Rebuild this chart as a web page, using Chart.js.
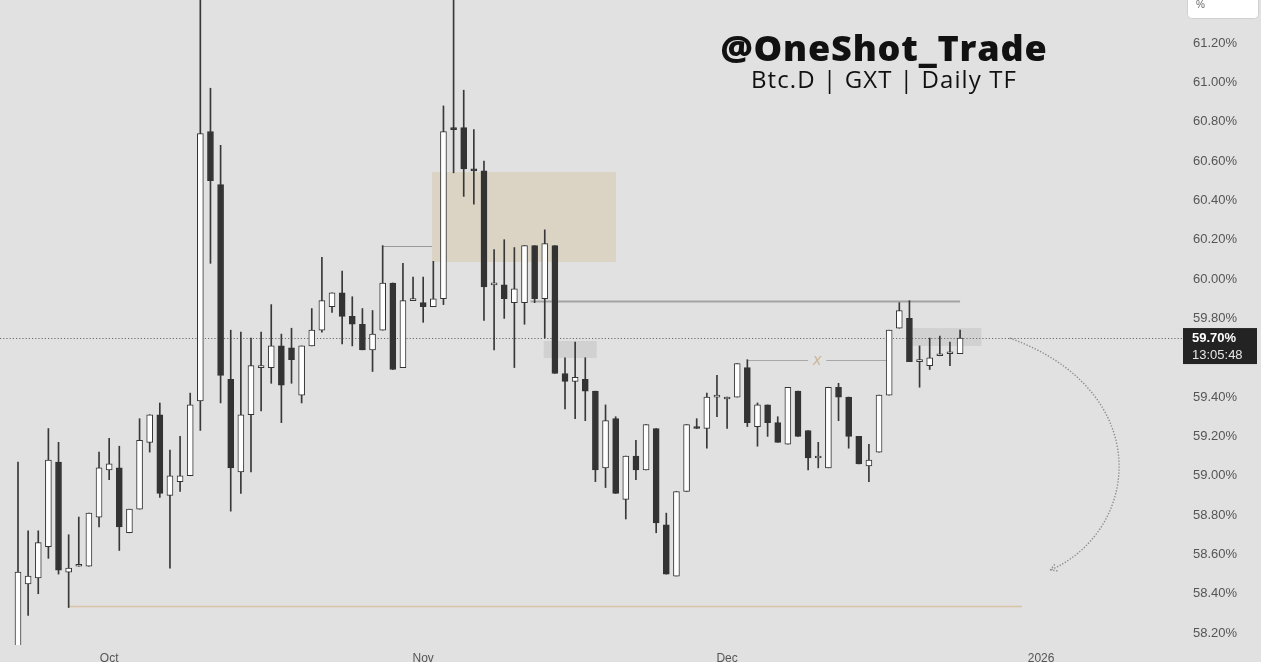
<!DOCTYPE html>
<html>
<head>
<meta charset="utf-8">
<title>Btc.D Daily</title>
<script src="https://cdn.jsdelivr.net/npm/chart.js@4.4.1/dist/chart.umd.min.js"></script>
<style>
  html, body { margin: 0; padding: 0; background: #e1e1e1; }
  #wrap { position: relative; width: 1261px; height: 662px; overflow: hidden; }
  #wrap canvas { position: absolute; left: 0; top: 0; }
  .head { position: absolute; left: 584px; width: 600px; text-align: center; color: #111; font-family: "Open Sans", sans-serif; white-space: nowrap; }
  #title { top: 30px; font-size: 36px; line-height: 36px; font-weight: 800; letter-spacing: 0.8px; }
  #subtitle { top: 67px; font-size: 24px; line-height: 24px; font-weight: 400; letter-spacing: 1.1px; }
</style>
</head>
<body>
<div id="wrap">
  <canvas id="out"></canvas>
  <div id="title" class="head">@OneShot_Trade</div>
  <div id="subtitle" class="head">Btc.D | GXT | Daily TF</div>
</div>
<script>
// daily candles, first one is 22 Sep 2025
const firstDay = Date.UTC(2025, 8, 22);
const opens = [
  58.10, 58.45, 58.48, 58.64, 59.07, 58.51, 58.54, 58.54, 58.79, 59.03,
  59.04, 58.71, 58.83, 59.17, 59.31, 58.90, 58.97, 59.00, 59.38, 60.75,
  60.48, 59.49, 59.02, 59.31, 59.55, 59.55, 59.66, 59.65, 59.41, 59.66,
  59.74, 59.86, 59.93, 59.81, 59.77, 59.64, 59.74, 59.98, 59.55, 59.89,
  59.88, 59.86, 59.90, 60.77, 60.77, 60.56, 60.55, 59.97, 59.97, 59.88,
  59.88, 60.17, 59.90, 60.17, 59.52, 59.48, 59.49, 59.43, 59.04, 59.29,
  58.88, 59.10, 59.03, 59.24, 58.75, 58.49, 58.92, 59.25, 59.24, 59.40,
  59.39, 59.40, 59.55, 59.25, 59.36, 59.27, 59.16, 59.43, 59.23, 59.09,
  59.04, 59.45, 59.40, 59.20, 59.05, 59.12, 59.41, 59.75, 59.80, 59.58,
  59.56, 59.61, 59.62, 59.62
];
const highs = [
  59.07, 58.72, 58.72, 59.24, 59.17, 58.70, 58.79, 58.81, 59.12, 59.19,
  59.15, 58.83, 59.29, 59.31, 59.37, 59.13, 59.20, 59.42, 61.50, 60.97,
  60.68, 59.74, 59.73, 59.70, 59.73, 59.87, 59.72, 59.75, 59.66, 59.85,
  60.11, 59.93, 60.04, 59.91, 59.85, 59.84, 60.17, 59.98, 60.08, 60.01,
  60.01, 60.09, 60.88, 61.45, 60.96, 60.76, 60.60, 60.15, 60.20, 60.16,
  60.17, 60.17, 60.25, 60.17, 59.60, 59.68, 59.60, 59.43, 59.36, 59.30,
  59.10, 59.18, 59.26, 59.24, 58.81, 58.92, 59.26, 59.29, 59.42, 59.51,
  59.40, 59.57, 59.59, 59.37, 59.36, 59.30, 59.45, 59.43, 59.23, 59.17,
  59.45, 59.47, 59.40, 59.20, 59.16, 59.41, 59.74, 59.88, 59.89, 59.66,
  59.70, 59.71, 59.68, 59.74
];
const lows = [
  58.08, 58.29, 58.40, 58.58, 58.50, 58.33, 58.54, 58.54, 58.74, 58.98,
  58.62, 58.71, 58.83, 59.12, 58.89, 58.53, 58.92, 59.00, 59.23, 60.08,
  59.37, 58.82, 58.91, 59.02, 59.33, 59.47, 59.27, 59.47, 59.37, 59.66,
  59.73, 59.83, 59.67, 59.66, 59.64, 59.53, 59.74, 59.54, 59.55, 59.89,
  59.78, 59.86, 59.87, 60.54, 60.42, 60.38, 59.79, 59.64, 59.80, 59.55,
  59.77, 59.88, 59.70, 59.52, 59.34, 59.29, 59.28, 58.97, 58.94, 58.91,
  58.78, 58.98, 59.03, 58.71, 58.50, 58.49, 58.92, 59.24, 59.14, 59.30,
  59.24, 59.40, 59.25, 59.15, 59.20, 59.17, 59.16, 59.20, 59.03, 59.04,
  59.04, 59.28, 59.14, 59.06, 58.97, 59.12, 59.41, 59.75, 59.58, 59.45,
  59.54, 59.61, 59.56, 59.62
];
const closes = [
  58.51, 58.49, 58.66, 59.08, 58.52, 58.53, 58.54, 58.81, 59.04, 59.06,
  58.74, 58.83, 59.18, 59.31, 58.91, 59.00, 59.00, 59.36, 60.74, 60.50,
  59.51, 59.04, 59.31, 59.56, 59.56, 59.66, 59.46, 59.59, 59.66, 59.74,
  59.89, 59.93, 59.81, 59.77, 59.64, 59.72, 59.98, 59.54, 59.89, 59.89,
  59.86, 59.90, 60.75, 60.76, 60.56, 60.55, 59.96, 59.97, 59.90, 59.95,
  60.17, 59.90, 60.18, 59.52, 59.48, 59.50, 59.43, 59.03, 59.28, 58.91,
  59.10, 59.03, 59.26, 58.76, 58.50, 58.92, 59.26, 59.24, 59.40, 59.41,
  59.40, 59.57, 59.27, 59.36, 59.27, 59.17, 59.45, 59.20, 59.09, 59.09,
  59.45, 59.40, 59.20, 59.06, 59.08, 59.41, 59.74, 59.84, 59.58, 59.58,
  59.60, 59.61, 59.62, 59.70
];
const days = opens.map((o, i) => new Date(firstDay + i * 86400000).toISOString().slice(0, 10));

const monthTicks = [9, 40, 70, 101];
const monthLabels = ["Oct", "Nov", "Dec", "2026"];
const priceTicks = [58.2, 58.4, 58.6, 58.8, 59.0, 59.2, 59.4, 59.8, 60.0, 60.2, 60.4, 60.6, 60.8, 61.0, 61.2];
const lastPrice = 59.70;
const countdown = "13:05:48";

const wickData = days.map((d, i) => ({ x: i, y: [lows[i], highs[i]] }));
const bodyData = days.map((d, i) => ({ x: i, y: [Math.min(opens[i], closes[i]), Math.max(opens[i], closes[i])] }));
const bodyColors = days.map((d, i) => closes[i] >= opens[i] ? "#ffffff" : "#333333");

// drawings on top of the chart (zone, levels, projection arrow, price tag)
const drawings = {
  id: "drawings",
  beforeDatasetsDraw(chart) {
    const { ctx, chartArea: a, scales: { x, y } } = chart;
    ctx.save();
    // supply zone
    ctx.fillStyle = "rgba(212,194,156,0.42)";
    ctx.fillRect(x.getPixelForValue(40.87), y.getPixelForValue(60.544),
      x.getPixelForValue(59.03) - x.getPixelForValue(40.87), y.getPixelForValue(60.087) - y.getPixelForValue(60.544));
    // faint grey marks
    ctx.fillStyle = "rgba(205,205,205,0.8)";
    ctx.fillRect(x.getPixelForValue(51.9), y.getPixelForValue(59.685), 53, 17);
    ctx.fillRect(x.getPixelForValue(88.0), y.getPixelForValue(59.751), 72, 18);

    const hline = (from, to, v, color, w) => {
      const py = Math.round(y.getPixelForValue(v)) + 0.5;
      ctx.strokeStyle = color;
      ctx.lineWidth = w;
      ctx.beginPath();
      ctx.moveTo(x.getPixelForValue(from), py);
      ctx.lineTo(x.getPixelForValue(to), py);
      ctx.stroke();
    };
    hline(36, 40.87, 60.17, "#9a9a9a", 1);
    hline(50.6, 93, 59.89, "#a3a3a3", 2);
    hline(5, 99.1, 58.34, "#d9c3a6", 1.5);
    // level with the x label
    hline(72, 78.0, 59.59, "#a8a8a8", 1);
    hline(79.8, 85.7, 59.59, "#a8a8a8", 1);
    ctx.fillStyle = "#c9b89c";
    ctx.font = "italic 15px 'DejaVu Sans'";
    ctx.textAlign = "center";
    ctx.textBaseline = "middle";
    ctx.fillText("x", x.getPixelForValue(78.9), y.getPixelForValue(59.59) + 1);

    // last price dotted line
    ctx.strokeStyle = "#6e6e6e";
    ctx.lineWidth = 1.2;
    ctx.setLineDash([1.2, 2]);
    const py = Math.round(y.getPixelForValue(lastPrice)) + 0.5;
    ctx.beginPath();
    ctx.moveTo(a.left, py);
    ctx.lineTo(a.right + 3, py);
    ctx.stroke();
    ctx.restore();
  },
  afterDatasetsDraw(chart) {
    const { ctx, scales: { x, y } } = chart;
    const p = (i, v) => [x.getPixelForValue(i), y.getPixelForValue(v)];
    const p0 = p(97.9, 59.70), p1 = p(112.4, 59.43), p2 = p(110.8, 58.72), p3 = p(101.9, 58.52);
    ctx.save();
    ctx.strokeStyle = "#8a8a8a";
    ctx.lineWidth = 1.4;
    ctx.setLineDash([1.3, 1.7]);
    ctx.beginPath();
    ctx.moveTo(p0[0], p0[1]);
    ctx.bezierCurveTo(p1[0], p1[1], p2[0], p2[1], p3[0], p3[1]);
    ctx.stroke();
    const ang = Math.atan2(p3[1] - p2[1], p3[0] - p2[0]);
    ctx.beginPath();
    for (const s of [-0.5, 0.5]) {
      ctx.moveTo(p3[0], p3[1]);
      ctx.lineTo(p3[0] - 9 * Math.cos(ang + s), p3[1] - 9 * Math.sin(ang + s));
    }
    ctx.stroke();
    ctx.restore();
  },
  afterDraw(chart) {
    const { ctx, chartArea: a, scales: { y } } = chart;
    ctx.save();
    // price tag
    const py = y.getPixelForValue(lastPrice);
    ctx.fillStyle = "#232323";
    ctx.fillRect(a.right + 3, py - 10, 74, 36);
    ctx.fillStyle = "#ffffff";
    ctx.font = "bold 13px 'Liberation Sans'";
    ctx.textAlign = "left";
    ctx.textBaseline = "middle";
    ctx.fillText(lastPrice.toFixed(2) + "%", a.right + 12, py);
    ctx.fillStyle = "#e6e6e6";
    ctx.font = "13px 'Liberation Sans'";
    ctx.fillText(countdown, a.right + 12, py + 17);
    // unit box
    ctx.fillStyle = "#ffffff";
    ctx.strokeStyle = "#d0d0d0";
    ctx.beginPath();
    ctx.roundRect(a.right + 7.5, -5.5, 71, 24, 4);
    ctx.fill();
    ctx.stroke();
    ctx.fillStyle = "#666";
    ctx.font = "10px 'Liberation Sans'";
    ctx.fillText("%", a.right + 16, 5);
    ctx.restore();
  }
};

const chartConfig = {
  type: "bar",
  data: {
    datasets: [
      {
        label: "body",
        data: bodyData,
        backgroundColor: bodyColors,
        borderColor: "#333333",
        borderWidth: 1,
        borderSkipped: false,
        barThickness: 6,
        minBarLength: 2,
        grouped: false,
        order: 0
      },
      {
        label: "wick",
        data: wickData,
        backgroundColor: "#383838",
        borderWidth: 0,
        barThickness: 1,
        grouped: false,
        order: 1
      }
    ]
  },
  options: {
    responsive: true,
    maintainAspectRatio: false,
    animation: false,
    layout: { padding: 0 },
    plugins: { legend: { display: false }, tooltip: { enabled: false } },
    scales: {
      x: {
        type: "linear",
        min: -1.777,
        max: 114.71,
        offset: false,
        afterBuildTicks: s => { s.ticks = monthTicks.map(v => ({ value: v })); },
        afterFit: s => { s.height = 17; s.paddingLeft = 0; s.paddingRight = 0; },
        grid: { display: false, drawTicks: false },
        border: { display: false },
        ticks: {
          padding: 6,
          autoSkip: false,
          maxRotation: 0,
          color: "#555",
          font: { family: "Liberation Sans", size: 12 },
          callback: v => monthLabels[monthTicks.indexOf(v)]
        }
      },
      y: {
        position: "right",
        min: 58.1395,
        max: 61.4186,
        afterBuildTicks: s => { s.ticks = priceTicks.map(v => ({ value: v })); },
        afterFit: s => { s.width = 81; s.paddingTop = 0; s.paddingBottom = 0; },
        grid: { display: false, drawTicks: false },
        border: { display: false },
        ticks: {
          padding: 13,
          color: "#555",
          font: { family: "Liberation Sans", size: 13 },
          callback: v => v.toFixed(2) + "%"
        }
      }
    }
  },
  plugins: [drawings]
};

const canvasCtx = document.getElementById("out").getContext("2d");
window.chart = new Chart(canvasCtx, chartConfig);
</script>
</body>
</html>
